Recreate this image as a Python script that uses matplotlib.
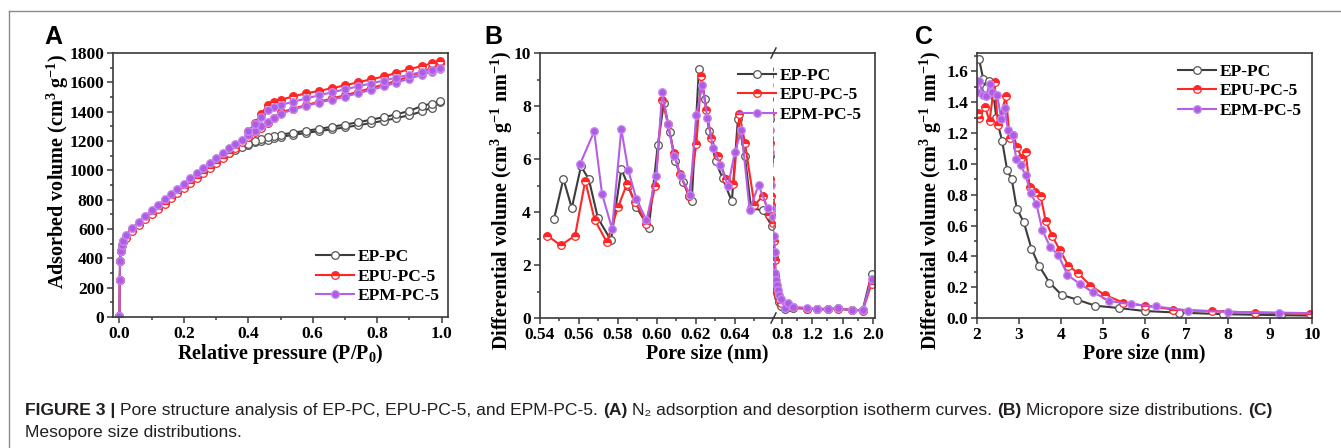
import matplotlib
matplotlib.use('Agg')
import matplotlib.pyplot as plt
from matplotlib.lines import Line2D
from matplotlib.ticker import MultipleLocator

plt.rcParams['font.family'] = 'Liberation Serif'
plt.rcParams['font.weight'] = 'bold'
plt.rcParams['mathtext.fontset'] = 'custom'
plt.rcParams['mathtext.rm'] = 'Liberation Serif:bold'
plt.rcParams['mathtext.it'] = 'Liberation Serif:bold'
plt.rcParams['mathtext.bf'] = 'Liberation Serif:bold'
plt.rcParams['mathtext.default'] = 'rm'

names = ['EP-PC', 'EPU-PC-5', 'EPM-PC-5']

# ---- panel A : N2 isotherms (adsorption + desorption branches)
p_ads = [0.000, 0.001, 0.002, 0.004, 0.007, 0.010, 0.020, 0.040, 0.060, 0.080, 0.100,
         0.120, 0.140, 0.160, 0.180, 0.200, 0.220, 0.240, 0.260, 0.280, 0.300, 0.320,
         0.340, 0.360, 0.380, 0.400, 0.420, 0.440, 0.460, 0.480, 0.500, 0.540, 0.580,
         0.620, 0.660, 0.700, 0.740, 0.780, 0.820, 0.860, 0.900, 0.940, 0.970, 0.995]
ads_ep = [10, 250, 380, 450, 490, 515, 550, 600, 640, 680, 715, 750, 785, 820, 855, 890,
          925, 960, 995, 1030, 1060, 1090, 1115, 1140, 1160, 1175, 1190, 1200, 1210, 1220,
          1228, 1242, 1255, 1268, 1280, 1293, 1307, 1322, 1338, 1356, 1376, 1402, 1428, 1465]
ads_epu = [10, 250, 380, 450, 488, 508, 540, 585, 625, 665, 700, 738, 773, 808, 843, 878,
           913, 948, 983, 1018, 1050, 1085, 1120, 1155, 1190, 1225, 1258, 1290, 1325, 1360,
           1395, 1420, 1445, 1468, 1490, 1512, 1535, 1560, 1585, 1610, 1640, 1670, 1700, 1730]
ads_epm = [10, 250, 380, 450, 492, 518, 558, 608, 650, 690, 728, 765, 802, 840, 875, 910,
           945, 980, 1015, 1050, 1085, 1118, 1150, 1180, 1210, 1240, 1270, 1300, 1330, 1358,
           1385, 1415, 1440, 1462, 1482, 1502, 1525, 1548, 1572, 1598, 1625, 1652, 1672, 1690]

p_des = [0.995, 0.970, 0.940, 0.900, 0.860, 0.820, 0.780, 0.740, 0.700, 0.660, 0.620,
         0.580, 0.540, 0.500, 0.480, 0.460, 0.440, 0.420, 0.400]
des_ep = [1470, 1455, 1440, 1405, 1382, 1362, 1345, 1327, 1312, 1297, 1283, 1270, 1257,
          1243, 1236, 1226, 1214, 1198, 1180]
des_epu = [1745, 1730, 1712, 1690, 1665, 1640, 1620, 1600, 1580, 1560, 1542, 1525, 1505,
           1480, 1465, 1445, 1385, 1320, 1265]
des_epm = [1695, 1685, 1672, 1652, 1632, 1612, 1592, 1572, 1552, 1532, 1512, 1490, 1468,
           1445, 1430, 1410, 1365, 1315, 1268]

# ---- panel B : micropore distribution (broken x axis)
micro_x_ep = [0.5472, 0.5520, 0.5563, 0.5610, 0.5650, 0.5697, 0.5764, 0.5817, 0.5852,
              0.5894, 0.5958, 0.6004, 0.6035, 0.6066, 0.6092, 0.6135, 0.6164, 0.6178,
              0.6215, 0.6245, 0.6267, 0.6301, 0.6336, 0.6384, 0.6415, 0.6451, 0.6482,
              0.6542, 0.6590]
micro_y_ep = [3.74, 5.25, 4.15, 5.72, 5.25, 3.77, 2.93, 5.62, 5.00, 4.19, 3.40, 6.52, 8.11,
              7.02, 5.94, 5.12, 4.59, 4.40, 9.41, 8.28, 7.07, 5.91, 5.28, 4.40, 7.51, 6.10,
              4.15, 4.06, 3.46]
micro_x_epu = [0.5438, 0.5506, 0.5580, 0.5632, 0.5680, 0.5743, 0.5800, 0.5846, 0.5889,
               0.5946, 0.5992, 0.6027, 0.6056, 0.6087, 0.6118, 0.6164, 0.6202, 0.6228,
               0.6253, 0.6279, 0.6313, 0.6353, 0.6392, 0.6423, 0.6451, 0.6500, 0.6544,
               0.6575, 0.6595]
micro_y_epu = [3.11, 2.74, 3.11, 5.18, 3.71, 2.86, 4.18, 5.06, 4.36, 3.56, 5.00, 8.24, 7.32,
               6.23, 5.43, 4.62, 6.58, 9.14, 7.86, 6.79, 6.10, 5.25, 5.06, 7.70, 6.60, 4.25,
               4.62, 3.90, 3.58]
micro_x_epm = [0.5606, 0.5678, 0.5718, 0.5770, 0.5817, 0.5852, 0.5894, 0.5946, 0.5996,
               0.6027, 0.6056, 0.6087, 0.6124, 0.6169, 0.6202, 0.6233, 0.6258, 0.6288,
               0.6324, 0.6365, 0.6399, 0.6433, 0.6475, 0.6521, 0.6567, 0.6595]
micro_y_epm = [5.82, 7.04, 4.69, 3.36, 7.13, 5.60, 4.49, 3.69, 5.37, 8.52, 7.32, 6.13, 5.35,
               4.63, 7.67, 8.81, 7.55, 6.42, 5.79, 4.99, 6.25, 7.08, 4.09, 5.01, 4.15, 3.81]
tail_x = [0.693, 0.706, 0.713, 0.720, 0.733, 0.746, 0.766, 0.785, 0.838, 0.878, 0.944,
          1.128, 1.260, 1.405, 1.537, 1.720, 1.867, 1.985]
tail_y_ep = [2.30, 1.60, 1.30, 1.10, 0.95, 0.80, 0.60, 0.45, 0.35, 0.40, 0.38, 0.35, 0.33,
             0.33, 0.36, 0.30, 0.30, 1.67]
tail_y_epu = [2.90, 2.20, 1.60, 1.30, 1.10, 0.90, 0.70, 0.55, 0.40, 0.50, 0.40, 0.35, 0.33,
              0.33, 0.35, 0.30, 0.28, 1.30]
tail_y_epm = [3.10, 2.50, 1.70, 1.45, 1.25, 1.05, 0.85, 0.70, 0.38, 0.55, 0.42, 0.38, 0.35,
              0.35, 0.36, 0.30, 0.30, 1.47]

# ---- panel C : mesopore distribution
meso_x_ep = [2.05, 2.15, 2.21, 2.29, 2.40, 2.46, 2.60, 2.72, 2.83, 2.95, 3.12, 3.30, 3.48,
             3.73, 4.02, 4.38, 4.82, 5.38, 6.02, 6.82, 7.88, 9.25, 10.3]
meso_y_ep = [1.68, 1.55, 1.49, 1.54, 1.44, 1.30, 1.15, 0.96, 0.90, 0.71, 0.62, 0.45, 0.34,
             0.23, 0.15, 0.12, 0.08, 0.065, 0.045, 0.035, 0.025, 0.018, 0.015]
meso_x_epu = [2.02, 2.05, 2.19, 2.30, 2.42, 2.50, 2.69, 2.78, 2.86, 2.96, 3.06, 3.16, 3.26,
              3.38, 3.52, 3.64, 3.80, 3.98, 4.18, 4.42, 4.71, 5.05, 5.49, 6.01, 6.69, 7.60,
              8.64, 9.96, 10.3]
meso_y_epu = [1.33, 1.30, 1.37, 1.28, 1.53, 1.25, 1.44, 1.17, 1.19, 1.11, 1.04, 1.08, 0.85,
              0.82, 0.79, 0.63, 0.53, 0.44, 0.34, 0.29, 0.21, 0.15, 0.10, 0.08, 0.055, 0.045,
              0.035, 0.028, 0.027]
meso_x_epm = [2.00, 2.05, 2.14, 2.22, 2.30, 2.37, 2.48, 2.58, 2.66, 2.74, 2.85, 2.94, 3.04,
              3.16, 3.28, 3.42, 3.56, 3.75, 3.94, 4.16, 4.46, 4.76, 5.16, 5.67, 6.27, 7.05,
              8.00, 9.20, 10.3]
meso_y_epm = [1.47, 1.54, 1.45, 1.44, 1.52, 1.47, 1.45, 1.29, 1.36, 1.22, 1.19, 1.03, 0.99,
              0.93, 0.81, 0.74, 0.57, 0.46, 0.41, 0.28, 0.22, 0.17, 0.11, 0.09, 0.075, 0.048,
              0.040, 0.035, 0.030]

# styles
st_ep = dict(color='#3c3c3c', lw=1.5, marker='o', ms=5.5, mfc='white', mec='#555555', mew=0.9)
st_epu = dict(color='#ff2626', lw=1.5, marker='o', ms=5.5, fillstyle='top', mfc='#ff2626',
              markerfacecoloralt='white', mec='#ff2626', mew=0.9)
st_epm = dict(color='#b55ee8', lw=1.5, marker='o', ms=5.5, mfc='#b05be4', mec='#c48af0', mew=0.9)
styles = [st_ep, st_epu, st_epm]

W, H = 1341, 448
fig = plt.figure(figsize=(W / 100, H / 100), dpi=100)


def box(l, r, t, b):
    return [l / W, 1 - b / H, (r - l) / W, (b - t) / H]


def style_axes(ax):
    for s in ax.spines.values():
        s.set_color('#3a3a3a')
        s.set_linewidth(1.2)
    ax.tick_params(which='both', direction='out', color='#3a3a3a', width=1.1,
                   labelsize=12.5, pad=2.5, top=False, right=False)
    ax.tick_params(which='major', length=4)
    ax.tick_params(which='minor', length=2.5)


lab_kw = dict(fontsize=14.5, fontweight='bold')
leg_kw = dict(frameon=False, fontsize=12.5, handlelength=2.2, handletextpad=0.2,
              labelspacing=0.2, borderaxespad=0.1)

# ---------- A
axA = fig.add_axes(box(113, 448, 53, 317))
for ads, des, st, nm in zip([ads_ep, ads_epu, ads_epm], [des_ep, des_epu, des_epm], styles, names):
    axA.plot(p_ads, ads, label=nm, **st)
    axA.plot(p_des, des, **st)
axA.set_xlim(-0.02, 1.02)
axA.set_ylim(0, 1800)
axA.xaxis.set_major_locator(MultipleLocator(0.2))
axA.xaxis.set_minor_locator(MultipleLocator(0.1))
axA.yaxis.set_major_locator(MultipleLocator(200))
axA.yaxis.set_minor_locator(MultipleLocator(100))
axA.xaxis.set_major_formatter(lambda v, p: f'{v:.1f}')
style_axes(axA)
axA.set_xlabel('Relative pressure (P/P$_0$)', **lab_kw)
axA.xaxis.set_label_coords(0.5, -0.095)
axA.set_ylabel('Adsorbed volume (cm$^3$ g$^{-1}$)', **lab_kw)
axA.yaxis.set_label_coords(-0.125, 0.55)
axA.legend(loc='lower right', bbox_to_anchor=(448 / W, 1 - 313 / H),
           bbox_transform=fig.transFigure, **leg_kw)

# ---------- B (broken axis)
axB1 = fig.add_axes(box(540, 773, 53, 318))
axB2 = fig.add_axes(box(773, 875, 53, 318))
for mx, my, ty, st, nm in zip([micro_x_ep, micro_x_epu, micro_x_epm],
                              [micro_y_ep, micro_y_epu, micro_y_epm],
                              [tail_y_ep, tail_y_epu, tail_y_epm], styles, names):
    axB1.plot(mx + tail_x, my + ty, label=nm, **st)
    axB2.plot(mx + tail_x, my + ty, **st)
axB1.set_xlim(0.54, 0.6595)
axB2.set_xlim(0.68, 2.03)
for ax in (axB1, axB2):
    ax.set_ylim(0, 10)
    style_axes(ax)
axB1.xaxis.set_major_locator(MultipleLocator(0.02))
axB1.xaxis.set_minor_locator(MultipleLocator(0.01))
axB1.xaxis.set_major_formatter(lambda v, p: f'{v:.2f}')
axB1.yaxis.set_major_locator(MultipleLocator(2))
axB1.yaxis.set_minor_locator(MultipleLocator(1))
axB1.spines['right'].set_visible(False)
axB2.spines['left'].set_visible(False)
axB2.tick_params(axis='y', which='both', left=False, labelleft=False)
axB2.set_xticks([0.8, 1.2, 1.6, 2.0])
axB2.set_xticks([1.0, 1.4, 1.8], minor=True)
axB2.xaxis.set_major_formatter(lambda v, p: f'{v:.1f}')
axB1.set_ylabel('Differential volume (cm$^3$ g$^{-1}$ nm$^{-1}$)', **lab_kw)
axB1.yaxis.set_label_coords(-0.108, 0.445)
fig.text(707 / W, 1 - 343 / H, 'Pore size (nm)', ha='center', va='top', **lab_kw)
axB2.legend(*axB1.get_legend_handles_labels(), loc='upper right',
            bbox_to_anchor=(870 / W, 1 - 59 / H), bbox_transform=fig.transFigure, **leg_kw)
# break marks
for yb in (53, 318):
    fig.add_artist(Line2D([771 / W, 776 / W], [1 - (yb + 5) / H, 1 - (yb - 5) / H],
                          color='#3a3a3a', lw=1.1))

# ---------- C
axC = fig.add_axes(box(977, 1312, 53, 318))
for mx, my, st, nm in zip([meso_x_ep, meso_x_epu, meso_x_epm],
                          [meso_y_ep, meso_y_epu, meso_y_epm], styles, names):
    axC.plot(mx, my, label=nm, **st)
axC.set_xlim(2, 10)
axC.set_ylim(0, 1.72)
axC.xaxis.set_major_locator(MultipleLocator(1))
axC.yaxis.set_major_locator(MultipleLocator(0.2))
axC.yaxis.set_minor_locator(MultipleLocator(0.1))
axC.yaxis.set_major_formatter(lambda v, p: f'{v:.1f}')
style_axes(axC)
axC.set_xlabel('Pore size (nm)', **lab_kw)
axC.xaxis.set_label_coords(0.5, -0.095)
axC.set_ylabel('Differential volume (cm$^3$ g$^{-1}$ nm$^{-1}$)', **lab_kw)
axC.yaxis.set_label_coords(-0.098, 0.445)
axC.legend(loc='upper right', bbox_to_anchor=(1310 / W, 1 - 55 / H),
           bbox_transform=fig.transFigure, **leg_kw)

# panel letters
for x, s in [(53, 'A'), (493, 'B'), (924, 'C')]:
    fig.text(x / W, 1 - 37 / H, s, ha='center', va='center', fontsize=18,
             fontweight='bold', family='Liberation Sans')

# outer frame
fig.add_artist(Line2D([9 / W, 1], [1 - 11 / H, 1 - 11 / H], color='#8a8a8a', lw=1))
fig.add_artist(Line2D([9 / W, 9 / W], [0, 1 - 11 / H], color='#8a8a8a', lw=1))

# caption
cap_fam = ['Liberation Sans', 'DejaVu Sans']
cap_size = 12.6
rend = fig.canvas.get_renderer()


def text_w(s, w):
    t = fig.text(0, 0, s, fontsize=cap_size, fontweight=w, family=cap_fam)
    ww = t.get_window_extent(rend).width
    t.remove()
    return ww


def caption_line(runs, x0, yb):
    x = x0
    for s, w in runs:
        core = s.strip()
        sp = text_w('a a', w) - text_w('aa', w)
        x += sp * (len(s) - len(s.lstrip()))
        t = fig.text(x / W, 1 - yb / H, core, fontsize=cap_size, fontweight=w,
                     family=cap_fam, va='baseline', color='#231f20')
        x += t.get_window_extent(rend).width
        x += sp * (len(s) - len(s.rstrip()))


caption_line([('FIGURE 3 |', 'bold'),
              (' Pore structure analysis of EP-PC, EPU-PC-5, and EPM-PC-5. ', 'normal'),
              ('(A)', 'bold'),
              (' N\u2082 adsorption and desorption isotherm curves. ', 'normal'),
              ('(B)', 'bold'),
              (' Micropore size distributions. ', 'normal'),
              ('(C)', 'bold')], 25, 415)
caption_line([('Mesopore size distributions.', 'normal')], 25, 437)

fig.savefig('out.png', dpi=100)
